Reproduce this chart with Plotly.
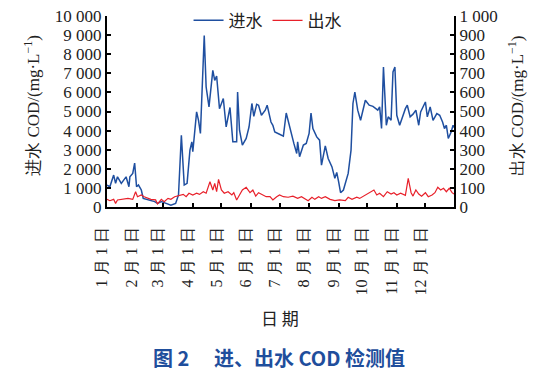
import plotly.graph_objects as go

# ---- data ----
inflow_dates = [
    "01-01", "01-04", "01-08", "01-10", "01-12", "01-16", "01-21", "01-24", "01-25", "01-28",
    "01-30", "02-01", "02-03", "02-06", "02-08", "02-15", "02-20", "02-23", "02-27", "03-04",
    "03-09", "03-14", "03-17", "03-20", "03-23", "03-26", "03-29", "03-31", "04-01", "04-05",
    "04-07", "04-09", "04-13", "04-15", "04-18", "04-22", "04-24", "04-26", "04-29", "05-03",
    "05-06", "05-10", "05-13", "05-17", "05-18", "05-20", "05-23", "05-27", "05-30", "06-02",
    "06-04", "06-07", "06-09", "06-12", "06-16", "06-18", "06-22", "06-24", "06-26", "07-01",
    "07-05", "07-08", "07-11", "07-15", "07-16", "07-19", "07-20", "07-22", "07-26", "07-29",
    "08-01", "08-03", "08-05", "08-09", "08-12", "08-14", "08-18", "08-21", "08-25", "08-28",
    "08-30", "09-01", "09-03", "09-06", "09-11", "09-14", "09-16", "09-18", "09-21", "09-24",
    "09-29", "10-03", "10-07", "10-12", "10-14", "10-16", "10-18", "10-21", "10-23", "10-26",
    "10-28", "10-30", "11-01", "11-04", "11-07", "11-10", "11-12", "11-15", "11-18", "11-21",
    "11-24", "11-26", "12-01", "12-03", "12-06", "12-09", "12-13", "12-16", "12-19", "12-21",
    "12-23", "12-25", "12-28", "12-30", "12-31",
]
inflow_cod = [
    1150, 1060, 1670, 1240, 1580, 1240, 1580, 1060, 1580, 1760,
    2300, 1060, 1150, 890, 450, 365, 280, 190, 280, 190,
    100, 190, 630, 3760, 1150, 1240, 2980, 3410, 2890, 4980,
    4540, 3850, 8980, 6280, 5240, 7150, 6630, 6860, 5150, 5680,
    4190, 5210, 3410, 3410, 6020, 4020, 3240, 3590, 4190, 5420,
    4750, 5380, 5330, 4800, 5070, 5330, 4450, 4280, 3930, 3810,
    3710, 4920, 4280, 3500, 3330, 2800, 3410, 2630, 3240, 3330,
    3850, 4920, 4110, 3670, 3500, 2190, 3200, 2540, 2100, 1500,
    1810, 1320, 750, 890, 1760, 2980, 5420, 6020, 5070, 4540,
    5590, 5330, 5270, 5070, 5240, 4110, 7330, 4280, 4720, 4540,
    7070, 7330, 4800, 4280, 4750, 5150, 5330, 4720, 4860, 5070,
    4280, 4980, 5500, 4720, 5240, 4540, 4890, 4800, 4450, 4110,
    4280, 3590, 3930, 4280, 4160,
]

outflow_dates = [
    "01-01", "01-04", "01-08", "01-10", "01-12", "01-18", "01-23", "01-28", "01-31", "02-02",
    "02-06", "02-09", "02-13", "02-16", "02-21", "02-23", "02-27", "03-02", "03-06", "03-09",
    "03-13", "03-18", "03-22", "03-25", "03-28", "04-01", "04-05", "04-08", "04-12", "04-15",
    "04-19", "04-22", "04-24", "04-26", "04-28", "05-01", "05-04", "05-08", "05-12", "05-14",
    "05-17", "05-20", "05-23", "05-27", "05-31", "06-03", "06-06", "06-09", "06-14", "06-17",
    "06-21", "06-24", "06-28", "07-01", "07-05", "07-10", "07-15", "07-20", "07-24", "07-28",
    "07-31", "08-04", "08-07", "08-11", "08-14", "08-18", "08-23", "08-28", "09-02", "09-08",
    "09-11", "09-15", "09-20", "09-23", "09-29", "10-04", "10-08", "10-11", "10-14", "10-18",
    "10-22", "10-26", "10-29", "11-01", "11-05", "11-10", "11-11", "11-13", "11-16", "11-18",
    "11-21", "11-24", "11-27", "12-01", "12-04", "12-08", "12-11", "12-14", "12-17", "12-20",
    "12-23", "12-26", "12-29", "12-31",
]
outflow_cod = [
    40, 33, 40, 19, 37, 40, 45, 40, 80, 54,
    63, 54, 45, 40, 37, 16, 40, 28, 45, 40,
    54, 61, 66, 54, 72, 63, 72, 66, 80, 72,
    132, 89, 124, 80, 145, 89, 72, 80, 63, 75,
    37, 63, 89, 103, 75, 89, 57, 75, 63, 54,
    54, 37, 54, 63, 54, 51, 57, 45, 54, 40,
    33, 51, 40, 54, 45, 54, 40, 33, 37, 33,
    51, 40, 51, 45, 63, 75, 89, 63, 72, 54,
    80, 68, 75, 63, 72, 61, 89, 150, 75, 57,
    89, 68, 57, 75, 54, 63, 75, 103, 89, 98,
    80, 98, 75, 68,
]

year = "2021"
month_ticks = [f"{year}-{m:02d}-01" for m in range(1, 13)]
month_labels = [f"{m} 月 1 日" for m in range(1, 13)]
left_ticks = [0, 1000, 2000, 3000, 4000, 5000, 6000, 7000, 8000, 9000, 10000]
left_labels = ["0", "1 000", "2 000", "3 000", "4 000", "5 000", "6 000",
               "7 000", "8 000", "9 000", "10 000"]
right_ticks = [0, 100, 200, 300, 400, 500, 600, 700, 800, 900, 1000]
right_labels = ["0", "100", "200", "300", "400", "500", "600", "700", "800", "900", "1 000"]

SERIF = "Liberation Serif"
CJK = "Noto Sans CJK SC"

fig = go.Figure()
fig.add_trace(go.Scatter(
    x=[f"{year}-{d}" for d in inflow_dates], y=inflow_cod, name="进水",
    mode="lines", line=dict(color="#1f4fa0", width=1.5), yaxis="y",
))
fig.add_trace(go.Scatter(
    x=[f"{year}-{d}" for d in outflow_dates], y=outflow_cod, name="出水",
    mode="lines", line=dict(color="#e8202a", width=1.2), yaxis="y2",
))

axis_common = dict(showgrid=False, zeroline=False, showline=True, linecolor="black",
                   linewidth=2, ticks="inside", ticklen=4, tickcolor="black", tickwidth=1.5,
                   automargin=False)

fig.update_layout(
    width=547, height=381,
    margin=dict(l=107, r=93, t=16, b=174, autoexpand=False),
    paper_bgcolor="white", plot_bgcolor="white",
    font=dict(family=SERIF, size=17, color="#222"),
    xaxis=dict(
        **axis_common,
        range=[f"{year}-01-01", f"{year}-12-31"],
        tickmode="array", tickvals=month_ticks, ticktext=month_labels,
        tickangle=-90, tickfont=dict(family=SERIF, size=16, color="#222"),
        ticklabelshift=-5, ticklabelstandoff=12,
    ),
    yaxis=dict(
        **axis_common,
        range=[0, 10000], tickmode="array", tickvals=left_ticks, ticktext=left_labels,
        tickfont=dict(family=SERIF, size=17, color="#222"),
    ),
    yaxis2=dict(
        **axis_common,
        overlaying="y", side="right", anchor="x",
        range=[0, 1000], tickmode="array", tickvals=right_ticks, ticktext=right_labels,
        tickfont=dict(family=SERIF, size=17, color="#222"),
    ),
    legend=dict(
        orientation="h", x=0.235, y=1.069, xanchor="left", yanchor="top",
        font=dict(family=CJK, size=17, color="#222"), bgcolor="rgba(0,0,0,0)",
        itemwidth=30, tracegroupgap=0,
    ),
    showlegend=True,
    annotations=[
        dict(text="进水 COD/(mg·L<sup>−1</sup>)", xref="paper", yref="paper",
             x=-0.216, y=0.53, textangle=-90, showarrow=False,
             font=dict(family=SERIF, size=17, color="#222"), xanchor="center", yanchor="middle"),
        dict(text="出水 COD/(mg·L<sup>−1</sup>)", xref="paper", yref="paper",
             x=1.177, y=0.53, textangle=-90, showarrow=False,
             font=dict(family=SERIF, size=17, color="#222"), xanchor="center", yanchor="middle"),
        dict(text="日 期", xref="paper", yref="paper", x=0.499, y=-0.58,
             showarrow=False, font=dict(family=CJK, size=17, color="#222"),
             xanchor="center", yanchor="middle"),
        dict(text="<b>图 2　 进、出水 COD 检测值</b>", xref="paper", yref="paper",
             x=0.495, y=-0.79, showarrow=False,
             font=dict(family=CJK, size=20, color="#1f4e9c"),
             xanchor="center", yanchor="middle"),
    ],
)

fig.write_html("out.html", config={"displayModeBar": False},
               post_script="document.body.style.margin='0px';")
